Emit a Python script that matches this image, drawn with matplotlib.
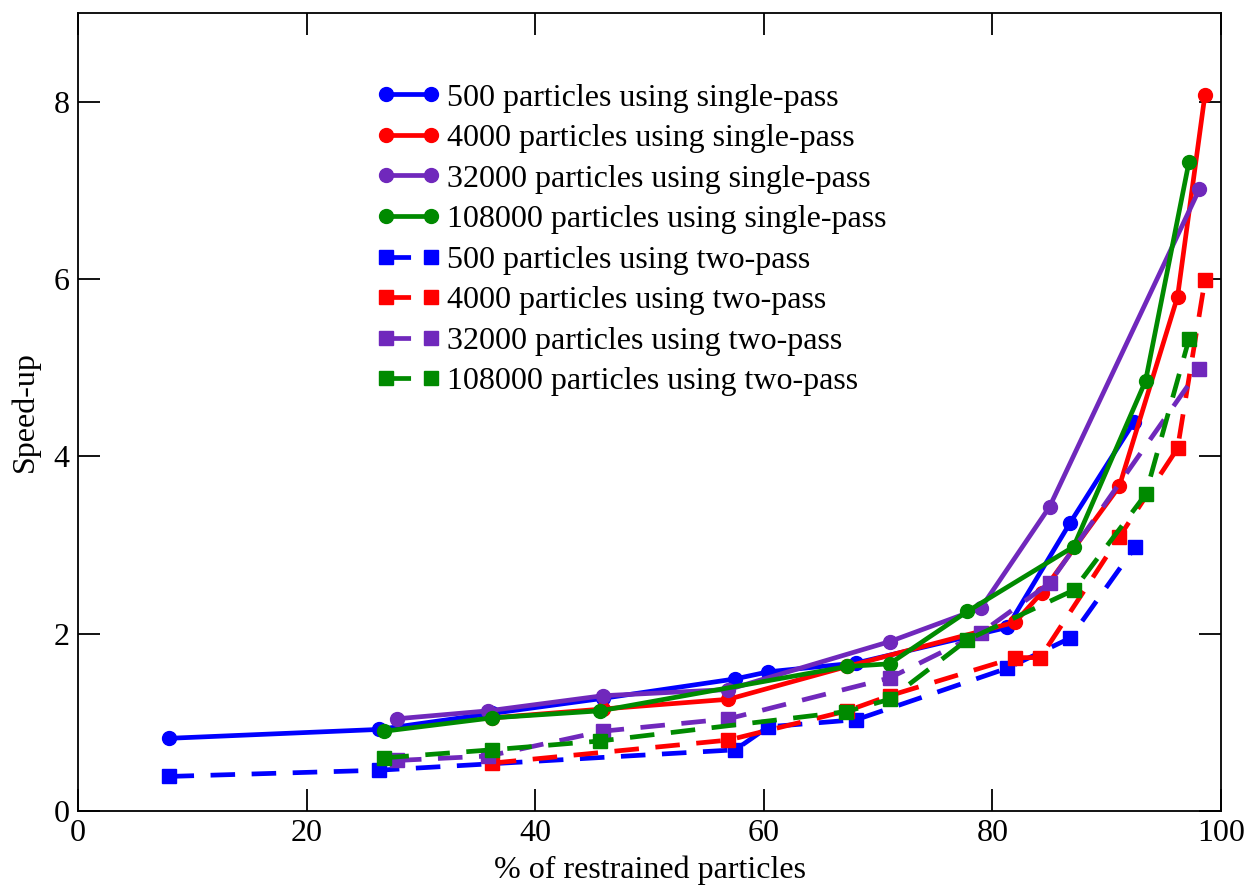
import numpy as np
import matplotlib
matplotlib.use("Agg")
import matplotlib.pyplot as plt

plt.rcParams["font.family"] = ["Liberation Serif", "DejaVu Serif"]

# ------------------------------------------------------------
# data (x = % restrained, y = speed-up)
# ------------------------------------------------------------
x_500_sp = [8.0, 26.3, 36.2, 45.9, 57.5, 60.4, 68.1, 81.3, 86.8, 92.4]
y_500_sp = [0.82, 0.92, 1.10, 1.27, 1.49, 1.57, 1.67, 2.07, 3.25, 4.39]

x_4000_sp = [36.2, 45.9, 56.9, 67.3, 82.0, 84.3, 91.1, 96.2, 98.6]
y_4000_sp = [1.05, 1.15, 1.26, 1.63, 2.13, 2.46, 3.66, 5.80, 8.08]

x_32000_sp = [27.9, 35.9, 45.9, 56.9, 71.0, 79.0, 85.0, 98.1]
y_32000_sp = [1.04, 1.13, 1.30, 1.37, 1.91, 2.29, 3.43, 7.01]

x_108000_sp = [26.8, 36.2, 45.7, 67.3, 71.0, 77.8, 87.1, 93.4, 97.2]
y_108000_sp = [0.90, 1.05, 1.13, 1.63, 1.66, 2.25, 2.98, 4.85, 7.32]

x_500_tp = [8.0, 26.3, 57.5, 60.4, 68.1, 81.3, 86.8, 92.5]
y_500_tp = [0.39, 0.46, 0.69, 0.95, 1.03, 1.61, 1.95, 2.98]

x_4000_tp = [36.2, 56.9, 67.3, 71.0, 82.0, 84.2, 91.1, 96.2, 98.6]
y_4000_tp = [0.54, 0.80, 1.13, 1.30, 1.73, 1.73, 3.09, 4.09, 5.99]

x_32000_tp = [27.9, 35.9, 45.9, 56.9, 71.0, 79.0, 85.0, 98.1]
y_32000_tp = [0.57, 0.62, 0.90, 1.04, 1.50, 2.01, 2.57, 4.98]

x_108000_tp = [26.8, 36.2, 45.7, 67.2, 71.0, 77.8, 87.1, 93.4, 97.2]
y_108000_tp = [0.60, 0.69, 0.79, 1.12, 1.26, 1.93, 2.49, 3.57, 5.32]

BLUE, RED, PURPLE, GREEN = "#0000ff", "#ff0000", "#7028bc", "#008a00"

single = [
    (x_500_sp, y_500_sp, BLUE, "500 particles using single-pass"),
    (x_4000_sp, y_4000_sp, RED, "4000 particles using single-pass"),
    (x_32000_sp, y_32000_sp, PURPLE, "32000 particles using single-pass"),
    (x_108000_sp, y_108000_sp, GREEN, "108000 particles using single-pass"),
]
two = [
    (x_500_tp, y_500_tp, BLUE, "500 particles using two-pass"),
    (x_4000_tp, y_4000_tp, RED, "4000 particles using two-pass"),
    (x_32000_tp, y_32000_tp, PURPLE, "32000 particles using two-pass"),
    (x_108000_tp, y_108000_tp, GREEN, "108000 particles using two-pass"),
]

fig = plt.figure(figsize=(12.51, 8.88), dpi=100)
ax = fig.add_axes([0.0624, 0.0867, 0.9136, 0.8987])

for xs, ys, c, lab in single:
    ax.plot(xs, ys, color=c, lw=3.4, marker="o", ms=10, label=lab)
for xs, ys, c, lab in two:
    ax.plot(xs, ys, color=c, lw=3.4, ls=(0, (5.2, 3.5)), marker="s", ms=9.5,
            dash_capstyle="butt", label=lab)

ax.set_xlim(0, 100)
ax.set_ylim(0, 9)
ax.set_xticks(np.arange(0, 101, 20))
ax.set_yticks([0, 2, 4, 6, 8])
ax.tick_params(direction="in", length=16, width=1.3, top=True, right=True,
               labelsize=23, pad=6)
for sp in ax.spines.values():
    sp.set_linewidth(1.3)

ax.set_xlabel("% of restrained particles", fontsize=23, labelpad=5)
ax.set_ylabel("Speed-up", fontsize=23, labelpad=10)

ax.legend(loc="upper left", bbox_to_anchor=(0.261, 0.912), frameon=False,
          fontsize=23, numpoints=2, handlelength=2.0, handletextpad=0.22,
          labelspacing=0.35, borderpad=0, borderaxespad=0)

fig.savefig("out.png", dpi=100)
